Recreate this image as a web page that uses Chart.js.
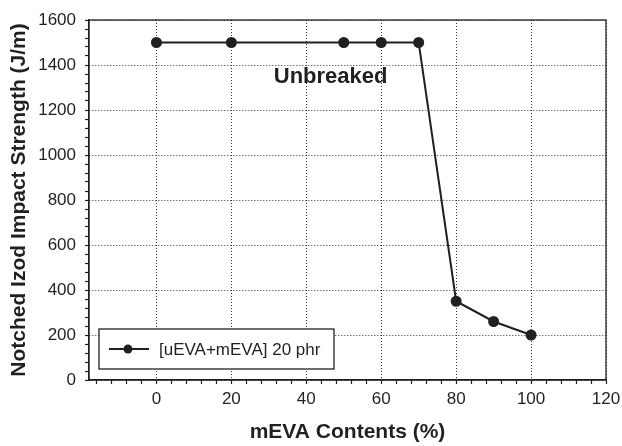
<!DOCTYPE html>
<html>
<head>
<meta charset="utf-8">
<script src="https://cdn.jsdelivr.net/npm/chart.js@4/dist/chart.umd.min.js"></script>
<style>
  html, body { margin: 0; padding: 0; background: #fff; }
  canvas { display: block; }
</style>
</head>
<body>
<canvas id="chartCanvas" width="622" height="446"></canvas>
<script>
// --- data ---
const mevaContents = [0, 20, 50, 60, 70, 80, 90, 100];
const impactStrength = [1500, 1500, 1500, 1500, 1500, 350, 260, 200];
const seriesLabel = "[uEVA+mEVA] 20 phr";

const xMajorTicks = [0, 20, 40, 60, 80, 100, 120];
const yMajorTicks = [0, 200, 400, 600, 800, 1000, 1200, 1400, 1600];
const xMinorStep = 4;
const yMinorStep = 40;

const noteText = "Unbreaked";
const noteAt = { x: 46.5, y: 1345 };

const ink = "#231f20";
const fontFamily = 'Arial, "Liberation Sans", sans-serif';

// minor tick positions, labels only on the major ones
function buildTicks(from, to, step) {
  const out = [];
  for (let v = from; v <= to + 1e-9; v += step) out.push({ value: v });
  return out;
}

// closes the frame (top + right) around the plot area
const framePlugin = {
  id: "frame",
  beforeDatasetsDraw(chart) {
    const { ctx, chartArea: a } = chart;
    ctx.save();
    ctx.strokeStyle = ink;
    ctx.lineWidth = 1.3;
    ctx.strokeRect(a.left, a.top, a.right - a.left, a.bottom - a.top);
    ctx.restore();
  }
};

// text note placed in data coordinates
const notePlugin = {
  id: "note",
  afterDatasetsDraw(chart) {
    const { ctx, scales } = chart;
    ctx.save();
    ctx.fillStyle = ink;
    ctx.font = `bold 22px ${fontFamily}`;
    ctx.textAlign = "center";
    ctx.textBaseline = "middle";
    ctx.fillText(noteText, scales.x.getPixelForValue(noteAt.x), scales.y.getPixelForValue(noteAt.y));
    ctx.restore();
  }
};

// boxed legend in the lower-left corner of the plot
const boxLegendPlugin = {
  id: "boxLegend",
  afterDraw(chart) {
    const { ctx, chartArea: a } = chart;
    const ds = chart.data.datasets[0];
    const x = a.left + 10, y = a.bottom - 51, w = 235, h = 40;
    ctx.save();
    ctx.fillStyle = "#fff";
    ctx.fillRect(x, y, w, h);
    ctx.strokeStyle = ink;
    ctx.lineWidth = 1.3;
    ctx.strokeRect(x, y, w, h);
    const cy = y + h / 2;
    ctx.beginPath();
    ctx.moveTo(x + 10, cy);
    ctx.lineTo(x + 50, cy);
    ctx.lineWidth = ds.borderWidth;
    ctx.strokeStyle = ds.borderColor;
    ctx.stroke();
    ctx.beginPath();
    ctx.arc(x + 29, cy, ds.pointRadius, 0, Math.PI * 2);
    ctx.fillStyle = ds.pointBackgroundColor;
    ctx.fill();
    ctx.fillStyle = ink;
    ctx.font = `17px ${fontFamily}`;
    ctx.textAlign = "left";
    ctx.textBaseline = "middle";
    ctx.fillText(ds.label, x + 60, cy + 1);
    ctx.restore();
  }
};

const axisCommon = {
  border: { color: ink, width: 1.3, dash: [1, 2] },
  ticks: {
    color: ink,
    font: { family: fontFamily, size: 17 },
    autoSkip: false,
    maxRotation: 0
  },
  title: {
    display: true,
    color: ink,
    font: { family: fontFamily, size: 21, weight: "bold" }
  }
};

const config = {
  type: "line",
  data: {
    labels: mevaContents,
    datasets: [{
      label: seriesLabel,
      data: mevaContents.map((x, i) => ({ x, y: impactStrength[i] })),
      borderColor: ink,
      backgroundColor: ink,
      pointBackgroundColor: ink,
      pointBorderColor: ink,
      borderWidth: 2,
      pointRadius: 4.5,
      tension: 0
    }]
  },
  options: {
    responsive: false,
    animation: false,
    layout: { padding: { top: 20, right: 16, bottom: 0, left: 0 } },
    plugins: {
      legend: { display: false },
      tooltip: { enabled: false }
    },
    scales: {
      x: {
        ...axisCommon,
        type: "linear",
        min: -18,
        max: 120,
        afterBuildTicks: s => { s.ticks = buildTicks(-16, 120, xMinorStep); },
        afterFit: s => { s.height = 66; s.paddingLeft = 0; s.paddingRight = 0; },
        grid: {
          color: c => (xMajorTicks.includes(c.tick && c.tick.value) ? "#333" : "transparent"),
          tickColor: ink,
          tickLength: 4,
          tickWidth: 1.2,
          lineWidth: 1
        },
        ticks: {
          ...axisCommon.ticks,
          padding: 5,
          callback: v => (xMajorTicks.includes(v) ? String(v) : "")
        },
        title: { ...axisCommon.title, text: "mEVA Contents (%)", padding: { top: 0, bottom: 1 } }
      },
      y: {
        ...axisCommon,
        type: "linear",
        min: 0,
        max: 1600,
        afterBuildTicks: s => { s.ticks = buildTicks(0, 1600, yMinorStep); },
        afterFit: s => { s.width = 89; },
        grid: {
          color: c => (yMajorTicks.includes(c.tick && c.tick.value) ? "#333" : "transparent"),
          tickColor: ink,
          tickLength: 4,
          tickWidth: 1.2,
          lineWidth: 1
        },
        ticks: {
          ...axisCommon.ticks,
          padding: 9,
          callback: v => (yMajorTicks.includes(v) ? String(v) : "")
        },
        title: { ...axisCommon.title, text: "Notched Izod Impact Strength (J/m)", padding: { top: 7, bottom: 0 } }
      }
    }
  },
  plugins: [framePlugin, notePlugin, boxLegendPlugin]
};

new Chart(document.getElementById("chartCanvas"), config);
</script>
</body>
</html>
